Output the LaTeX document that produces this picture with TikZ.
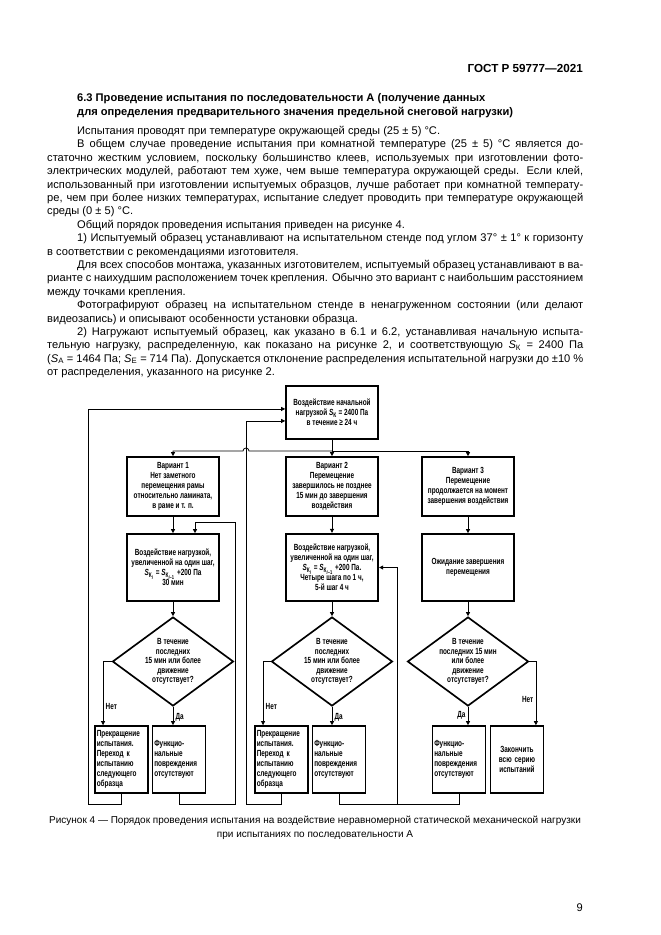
\documentclass[tikz,border=0pt]{standalone}
\usepackage{fontspec}
\setmainfont{Liberation Sans}
\newfontfamily\chartfont[FakeStretch=0.72]{Liberation Sans}
\usetikzlibrary{positioning,shapes.geometric,arrows.meta,calc}
\tikzset{
    block/.style = {draw, rectangle, line width=1.5pt,
        minimum width=82.8pt, align=center, inner sep=1.2pt,
        font=\chartfont\bfseries\fontsize{8}{9.1}\selectfont},
    sbox/.style = {block, minimum width=47.7pt, minimum height=60.3pt,
        text width=44.5pt, align=left},
    decision/.style = {draw, diamond, line width=1.5pt,
        minimum width=108.9pt, minimum height=80.1pt, inner sep=0pt},
    line/.style = {draw, line width=0.7pt},
    arrow/.style = {line, ->},
    lbl/.style = {font=\chartfont\bfseries\fontsize{8}{8.5}\selectfont, inner sep=2pt},
    txt/.style = {anchor=base west, inner sep=0pt, font=\fontsize{10}{12}\selectfont}
}
\newcommand\jl[1]{\makebox[482.4pt][s]{#1}}
\newcommand\ji[1]{\makebox[455.4pt][s]{#1}}
\newcommand\Sb[1]{\textit{S}\textsubscript{#1}}
\newcommand\Sbb[1]{\textit{S}\textsubscript{К\textsubscript{#1}}}

\begin{document}
\begin{tikzpicture}[x=0.9pt, y=-0.9pt, >={Triangle[length=3.6pt,width=3.6pt]}]
        \fill [white] (0,0) rectangle (661,935);
        \useasboundingbox (0,0) rectangle (661,935);
        % page header and section text
        \node [txt, anchor=base east, font=\bfseries\fontsize{10.5}{12}\selectfont] (gost) at (583,72) {ГОСТ Р 59777—2021};
        \node [txt, font=\bfseries\fontsize{10}{12}\selectfont] (head1) at (77,101) {6.3 Проведение испытания по последовательности А (получение данных};
        \node [txt, font=\bfseries\fontsize{10}{12}\selectfont] (head2) at (77,115) {для определения предварительного значения предельной снеговой нагрузки)};
        \node [txt] (p0) at (77,134.5) {Испытания проводят при температуре окружающей среды (25 ± 5) °С.};
        \node [txt] (p1) at (77,147.9) {\ji{В общем случае проведение испытания при комнатной температуре (25 ± 5) °С является до-}};
        \node [txt] (p2) at (47,161.3) {\jl{статочно жестким условием, поскольку большинство клеев, используемых при изготовлении фото-}};
        \node [txt] (p3) at (47,174.7) {\jl{электрических модулей, работают тем хуже, чем выше температура окружающей среды. Если клей,}};
        \node [txt] (p4) at (47,188.1) {\jl{использованный при изготовлении испытуемых образцов, лучше работает при комнатной температу-}};
        \node [txt] (p5) at (47,201.5) {\jl{ре, чем при более низких температурах, испытание следует проводить при температуре окружающей}};
        \node [txt] (p6) at (47,214.9) {среды (0 ± 5) °С.};
        \node [txt] (p7) at (77,228.3) {Общий порядок проведения испытания приведен на рисунке 4.};
        \node [txt] (p8) at (77,241.7) {\ji{1) Испытуемый образец устанавливают на испытательном стенде под углом 37° ± 1° к горизонту}};
        \node [txt] (p9) at (47,255.1) {в соответствии с рекомендациями изготовителя.};
        \node [txt] (p10) at (77,268.5) {\ji{Для всех способов монтажа, указанных изготовителем, испытуемый образец устанавливают в ва-}};
        \node [txt] (p11) at (47,281.9) {\jl{рианте с наихудшим расположением точек крепления. Обычно это вариант с наибольшим расстоянием}};
        \node [txt] (p12) at (47,295.3) {между точками крепления.};
        \node [txt] (p13) at (77,308.7) {\ji{Фотографируют образец на испытательном стенде в ненагруженном состоянии (или делают}};
        \node [txt] (p14) at (47,322.1) {видеозапись) и описывают особенности установки образца.};
        \node [txt] (p15) at (77,335.5) {\ji{2) Нагружают испытуемый образец, как указано в 6.1 и 6.2, устанавливая начальную испыта-}};
        \node [txt] (p16) at (47,348.9) {\jl{тельную нагрузку, распределенную, как показано на рисунке 2, и соответствующую \Sb{К} = 2400 Па}};
        \node [txt] (p17) at (47,362.3) {\jl{(\Sb{А} = 1464 Па; \Sb{Е} = 714 Па). Допускается отклонение распределения испытательной нагрузки до ±10 \%}};
        \node [txt] (p18) at (47,375.7) {от распределения, указанного на рисунке 2.};

        % flowchart boxes
        \node [block, minimum height=47.7pt] (start) at (332,412.5) {Воздействие начальной\\нагрузкой \Sb{К} = 2400 Па\\в течение ≥ 24 ч};
        \node [block, minimum height=53.1pt] (var1) at (173,486.5) {Вариант 1\\Нет заметного\\перемещения рамы\\относительно ламината,\\в раме и т. п.};
        \node [block, minimum height=53.1pt] (var2) at (332,486.5) {Вариант 2\\Перемещение\\завершилось не позднее\\15 мин до завершения\\воздействия};
        \node [block, minimum height=53.1pt] (var3) at (468,486.5) {Вариант 3\\Перемещение\\продолжается на момент\\завершения воздействия};
        \node [block, minimum height=60.3pt] (load1) at (173,567.5) {Воздействие нагрузкой,\\увеличенной на один шаг,\\\Sbb{\textit{i}} = \Sbb{\textit{i}–1} +200 Па\\30 мин};
        \node [block, minimum height=60.3pt, line width=2.1pt] (load2) at (332,567.5) {Воздействие нагрузкой,\\увеличенной на один шаг,\\\Sbb{\textit{i}} = \Sbb{\textit{i}–1} +200 Па.\\Четыре шага по 1 ч,\\5-й шаг 4 ч};
        \node [block, minimum height=60.3pt] (wait3) at (468,567.5) {Ожидание завершения\\перемещения};
        \foreach \a/\x in {1/173,2/332,3/468}{
            \node [decision] (dec\a) at (\x,661.5) {};
        }
        \node [lbl, align=center, font=\chartfont\bfseries\fontsize{8}{8.5}\selectfont] (q1) at (dec1) {В течение\\последних\\15 мин или более\\движение\\отсутствует?};
        \node [lbl, align=center] (q2) at (dec2) {В течение\\последних\\15 мин или более\\движение\\отсутствует?};
        \node [lbl, align=center] (q3) at (dec3) {В течение\\последних 15 мин\\или более\\движение\\отсутствует?};
        \foreach \a/\x in {1/121.5,2/281.5}{
            \node [sbox] (stop\a) at (\x,759.5) {Прекращение\\испытания.\\Переход к\\испытанию\\следующего\\образца};
        }
        \foreach \a/\x in {1/179,2/339,3/459}{
            \node [sbox] (ok\a) at (\x,759.5) {Функцио-\\нальные\\повреждения\\отсутствуют};
        }
        \node [sbox, align=center] (end3) at (517,759.5) {Закончить\\всю серию\\испытаний};

        % connectors
        \coordinate (bus) at (332,451);
        \coordinate (jump) at (249,451);
        \draw [arrow] (start) -- (var2);
        \draw [arrow] (bus) -- (jump) arc (0:-180:3) -| (var1.north);
        \draw [arrow] (bus) -| (var3.north);
        \draw [arrow] (var1) -- (load1);
        \draw [arrow] (var2) -- (load2);
        \draw [arrow] (var3) -- (wait3);
        \draw [arrow] (load1) -- (dec1);
        \draw [arrow] (load2) -- (dec2);
        \draw [arrow] (wait3) -- (dec3);
        \foreach \a in {1,2}{
            \draw [arrow] (dec\a.west) -| ([xshift=-16.6pt]stop\a.north) node [lbl, pos=0.85, right] {Нет};
            \draw [arrow] (dec\a.south) -- (dec\a.south |- ok\a.north) node [lbl, pos=0.55, right] {Да};
        }
        \draw [arrow] (dec3.east) -| ([xshift=17pt]end3.north) node [lbl, pos=0.8, left] {Нет};
        \draw [arrow] (dec3.south) -- (dec3.south |- ok3.north) node [lbl, pos=0.45, left] {Да};
        % loops back
        \coordinate (b1) at (88,804);
        \coordinate (b2) at (235,804);
        \coordinate (t2) at (235,522);
        \coordinate (b3) at (246,804);
        \coordinate (b4) at (397,804);
        \draw [arrow] (stop1.south) |- (b1) |- ([yshift=3.2pt]start.west);
        \draw [arrow] (ok1.south) |- (b2) -- (t2) -| ([xshift=19.8pt]load1.north);
        \draw [arrow] (stop2.south) |- (b3) |- ([yshift=-7.6pt]start.west);
        \draw [line] (ok2.south) |- (b4);
        \draw [line] (ok3.south) |- (b4);
        \draw [arrow] (b4) |- (load2.east);

        % caption and page number
        \node [txt, anchor=base, font=\fontsize{9}{11}\selectfont] (cap1) at (315,823.5) {Рисунок 4 — Порядок проведения испытания на воздействие неравномерной статической механической нагрузки};
        \node [txt, anchor=base, font=\fontsize{9}{11}\selectfont] (cap2) at (315,837.5) {при испытаниях по последовательности А};
        \node [txt, anchor=base east] (page) at (583,911.5) {9};
\end{tikzpicture}
\end{document}
